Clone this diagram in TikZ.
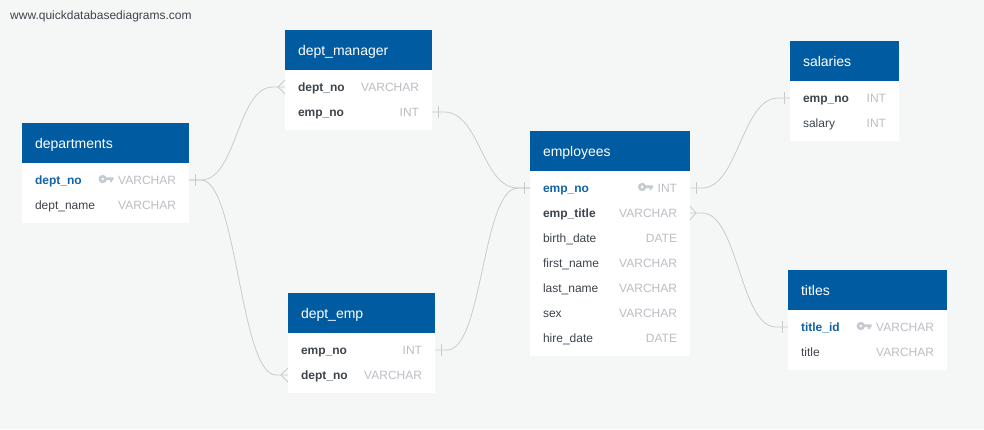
\documentclass[tikz,border=0pt]{standalone}
\usepackage{fontspec}
\setmainfont{Liberation Sans}
\usetikzlibrary{positioning,calc}
\definecolor{pagebg}{HTML}{F5F7F7}
\definecolor{headblue}{HTML}{005BA0}
\definecolor{keyblue}{HTML}{1263A6}
\definecolor{fieldgray}{HTML}{3E444C}
\definecolor{typegray}{HTML}{BBBEC3}
\definecolor{linegray}{HTML}{C9CCC9}
\definecolor{keygray}{HTML}{C6CAD1}
\tikzset{
  tablehead/.style={anchor=north west,fill=headblue,text=white,font=\fontsize{14}{14}\selectfont,
    text width=#1-26pt,text height=11pt,text depth=1pt,minimum height=40pt,inner xsep=13pt,inner ysep=14pt,outer sep=0pt},
  tablebody/.style={fill=white,inner sep=0pt,outer sep=0pt},
  rowbox/.style={inner sep=0pt,outer sep=0pt,minimum height=25pt},
  rowtext/.style={inner sep=0pt,outer sep=0pt,text height=9pt,text depth=3pt,yshift=-1pt,font=\fontsize{12}{12}\selectfont},
  plainfield/.style={rowtext,text=fieldgray},
  linkfield/.style={rowtext,text=fieldgray,font=\fontsize{12}{12}\selectfont\bfseries},
  keyfield/.style={rowtext,text=keyblue,font=\fontsize{12}{12}\selectfont\bfseries},
  typetext/.style={rowtext,text=typegray},
  relline/.style={draw=linegray,line width=0.8pt},
  onemark/.pic={\draw[relline] (#1,-6) -- (#1,6);},
  manymark/.pic={\draw[relline] (0,-7) -- (#1,0) -- (0,7);},
  keymark/.pic={
    \fill[keygray,even odd rule] (-15.5,-2) circle (4.2) (-15.5,-2) circle (1.7);
    \fill[keygray] (-12,-3.6) -- (-4.5,-3.6) -- (-4.5,-1) -- (-6,-1) -- (-6,1) -- (-8,1) -- (-8,-1) -- (-12,-1) -- cycle;
  },
}
% id, left, top, width, body height, title
\newcommand{\dbtable}[6]{
  \node[tablehead=#4] (#1) at (#2,#3) {#6};
  \node[tablebody,minimum width=#4,minimum height=#5,below=0pt of #1] (#1body) {};
}
% field style, id, node above, gap, width, field, type
\newcommand{\dbrow}[7][plainfield]{
  \node[rowbox,minimum width=#5,below=#4 of #3] (#2) {};
  \node[#1,anchor=west,xshift=13pt] (#2f) at (#2.west) {#6};
  \node[typetext,anchor=east,xshift=-13pt] (#2t) at (#2.east) {#7};
}
\newcommand{\rellink}[3][36]{
  \draw[relline] (#2.east) -- ++(12,0) .. controls +(#1,0) and +(-#1,0) .. ($(#3.west)+(-12,0)$) -- (#3.west);
}
\begin{document}
\begin{tikzpicture}[x=1pt,y=-1pt]
  \fill[pagebg] (0,0) rectangle (984,429);
  \useasboundingbox (0,0) rectangle (984,429);
  \node[anchor=west,inner sep=0pt,text=fieldgray,font=\fontsize{12}{12}\selectfont] (site) at (10,16) {www.quickdatabasediagrams.com};

  % departments
  \dbtable{departments}{22}{123}{167pt}{60pt}{departments}
  \dbrow[keyfield]{dp1}{departments}{4.5pt}{167pt}{dept\_no}{VARCHAR}
  \dbrow{dp2}{dp1}{0pt}{167pt}{dept\_name}{VARCHAR}

  % dept_manager
  \dbtable{deptmanager}{285}{30}{147pt}{60pt}{dept\_manager}
  \dbrow[linkfield]{dm1}{deptmanager}{4.5pt}{147pt}{dept\_no}{VARCHAR}
  \dbrow[linkfield]{dm2}{dm1}{0pt}{147pt}{emp\_no}{INT}

  % dept_emp
  \dbtable{deptemp}{288}{293}{147pt}{60pt}{dept\_emp}
  \dbrow[linkfield]{de1}{deptemp}{4.5pt}{147pt}{emp\_no}{INT}
  \dbrow[linkfield]{de2}{de1}{0pt}{147pt}{dept\_no}{VARCHAR}

  % employees
  \dbtable{employees}{530}{131}{160pt}{185pt}{employees}
  \dbrow[keyfield]{em1}{employees}{4.5pt}{160pt}{emp\_no}{INT}
  \dbrow[linkfield]{em2}{em1}{0pt}{160pt}{emp\_title}{VARCHAR}
  \dbrow{em3}{em2}{0pt}{160pt}{birth\_date}{DATE}
  \dbrow{em4}{em3}{0pt}{160pt}{first\_name}{VARCHAR}
  \dbrow{em5}{em4}{0pt}{160pt}{last\_name}{VARCHAR}
  \dbrow{em6}{em5}{0pt}{160pt}{sex}{VARCHAR}
  \dbrow{em7}{em6}{0pt}{160pt}{hire\_date}{DATE}

  % salaries
  \dbtable{salaries}{790}{41}{109pt}{60pt}{salaries}
  \dbrow[linkfield]{sa1}{salaries}{4.5pt}{109pt}{emp\_no}{INT}
  \dbrow{sa2}{sa1}{0pt}{109pt}{salary}{INT}

  % titles
  \dbtable{titles}{788}{270}{159pt}{60pt}{titles}
  \dbrow[keyfield]{ti1}{titles}{4.5pt}{159pt}{title\_id}{VARCHAR}
  \dbrow{ti2}{ti1}{0pt}{159pt}{title}{VARCHAR}

  % primary keys
  \path (dp1t.west) pic {keymark};
  \path (em1t.west) pic {keymark};
  \path (ti1t.west) pic {keymark};

  % relations
  \rellink{dp1}{dm1}
  \rellink{dp1}{de2}
  \rellink{dm2}{em1}
  \rellink{de1}{em1}
  \rellink{em1}{sa1}
  \rellink{em2}{ti1}

  \path (dp1.east) pic {onemark=6};
  \path (dm1.west) pic {manymark=-7};
  \path (de2.west) pic {manymark=-7};
  \path (dm2.east) pic {onemark=6};
  \path (em1.west) pic {onemark=-6};
  \path (de1.east) pic {onemark=6};
  \path (em1.east) pic {onemark=6};
  \path (sa1.west) pic {onemark=-6};
  \path (em2.east) pic {manymark=6};
  \path (ti1.west) pic {onemark=-6};
\end{tikzpicture}
\end{document}
